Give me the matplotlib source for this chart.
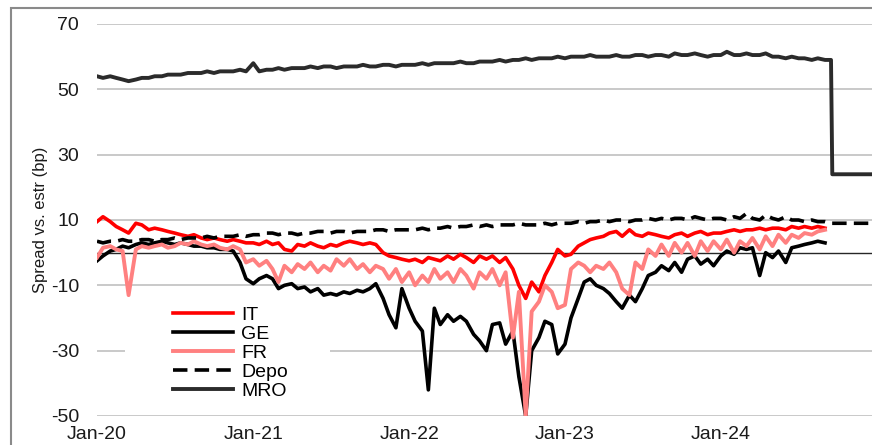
import matplotlib
matplotlib.use('Agg')
import matplotlib.pyplot as plt
import matplotlib.dates as mdates
import pandas as pd
from matplotlib.patches import Rectangle

plt.rcParams['font.family'] = ['Liberation Sans', 'DejaVu Sans']
plt.rcParams['axes.unicode_minus'] = False

# semi-monthly observation dates (1st and 15th), Jan-20 .. Jan-25
dates = pd.date_range('2020-01-01', '2025-01-01', freq='SMS')

# spreads vs estr (bp)
it = ([9.5, 11, 9.5, 8, 7, 6, 9, 8.5, 7, 7.5, 7, 6.5, 6, 5.5, 5, 5.5, 4.5, 4, 4.5, 4, 3.5, 4, 3.5, 3]
      + [3, 2.5, 3.5, 2.5, 3, 1, 0.5, 2.5, 2, 3, 2, 1.5, 2.5, 2, 3, 3.5, 3, 2.5, 3, 2.5, 0, -1, -1.5, -2]
      + [-2.5, -2, -3, -1.5, -2, -2.5, -1, -2, -0.5, -1.5, -3, -1, -2, -1, -3, -1.5, -5, -10, -14, -9, -12, -7, -3, 1]
      + [-1, -0.5, 2, 3, 4, 4.5, 5, 6, 6.5, 5, 7, 5.5, 5, 6, 5.5, 5, 4.5, 5.5, 6, 5, 6, 6.5, 5.5, 6]
      + [6, 6.5, 7, 6.5, 7, 7, 7.5, 7, 7.5, 7.5, 7, 8, 7.5, 8, 7.5, 8, 7.5])

ge = ([-2.5, -1, 0.5, 1, 2, 1.5, 2.5, 3, 2.5, 3, 3.5, 3, 2.5, 3, 2.5, 2, 2, 1.5, 1.5, 1, 1, 0.5, -3, -8]
      + [-9.5, -8, -7, -8, -11, -10, -9.5, -11, -10.5, -12, -11, -13, -12.5, -13, -12, -12.5, -11.5, -12, -11, -9.5, -14, -19, -23, -11]
      + [-17, -21, -24, -42, -17, -22, -19, -21, -19.5, -21, -25, -27, -30, -22, -21.5, -28, -24, -38, -50, -30, -26, -21, -22, -31]
      + [-28, -20, -14, -9, -8, -10, -11, -12.5, -15, -17, -13, -15, -11, -7, -6, -4, -5.5, -3, -6, -2, -1, -3.5, -2, -4]
      + [-1, 0.5, -0.5, 1.5, 1, 1.5, -7, 0, -1.5, 0.5, -3, 1.5, 2, 2.5, 3, 3.5, 3])

fr = ([-1.5, 1.5, 2, 1, 0.5, -13, 1, 2, 1.5, 2, 2.5, 1.5, 2, 3, 2.5, 3.5, 2.5, 2, 2.5, 1.5, 1, 2, 1, -3]
      + [-2, -4, -2.5, -5, -9, -4, -6, -3.5, -5, -3, -6, -4, -5.5, -2, -4, -2, -5, -3.5, -6, -4, -5, -8, -5, -9]
      + [-6, -10, -7, -9, -5, -8, -6, -9, -5, -7, -11, -6, -8, -5, -10, -6, -26, -12, -50, -18, -15, -10, -12, -17]
      + [-16, -5, -3, -4, -6, -4, -5, -3, -6, -11, -13, -3, -5, 1, -1, 2.5, -1, 3, 0, 3, -1, 3.5, 0.5, 3.5]
      + [1, 4, 0, 3.5, 2, 4.5, 1, 5, 2, 5.5, 3, 5.5, 4.5, 6, 5.5, 6.5, 7])

depo = ([3.5, 3, 3.5, 3.5, 4, 3.5, 3.5, 4, 4, 3.5, 4, 4, 4.5, 4, 4.5, 4.5, 4.5, 5, 4.5, 5, 5, 5, 5.5, 5]
        + [5.5, 5.5, 6, 6, 5.5, 6, 6, 5.5, 6, 6, 6.5, 6.5, 6, 6.5, 6.5, 6, 6.5, 6.5, 6.5, 7, 7, 6.5, 7, 7]
        + [7, 7, 7.5, 7, 7.5, 7.5, 8, 7.5, 8, 8, 8.5, 8, 8.5, 8, 8.5, 8.5, 8.5, 9, 8.5, 8.5, 8.5, 9, 8.5, 9]
        + [9, 9, 9.5, 9, 9.5, 9.5, 10, 9.5, 10, 10, 9.5, 10, 10, 10.5, 10, 10.5, 10, 10.5, 10.5, 10, 11, 10.5, 10, 10.5]
        + [10.5, 10, 11, 10.5, 12, 10.5, 10, 11.5, 10.5, 10, 11, 10, 10, 9.5, 10, 9.5, 9.5, 9, 9, 9, 9, 9, 9, 9, 9])

mro = ([54, 53.5, 54, 53.5, 53, 52.5, 53, 53.5, 53.5, 54, 54, 54.5, 54.5, 54.5, 55, 55, 55, 55.5, 55, 55.5, 55.5, 55.5, 56, 55.5]
       + [58, 55.5, 56, 56, 56.5, 56, 56.5, 56.5, 56.5, 57, 56.5, 57, 57, 56.5, 57, 57, 57, 57.5, 57, 57, 57.5, 57.5, 57, 57.5]
       + [57.5, 57.5, 58, 57.5, 58, 58, 58, 58, 58.5, 58, 58, 58.5, 58.5, 58.5, 59, 58.5, 59, 59, 59.5, 59, 59.5, 59.5, 59.5, 60]
       + [59.5, 60, 60, 60, 60.5, 60, 60, 60, 60.5, 60, 60, 60.5, 60.5, 60, 60.5, 60.5, 60, 61, 60.5, 60.5, 61, 60.5, 60, 60.5]
       + [60.5, 61.5, 60.5, 60.5, 61, 60.5, 60.5, 61, 60, 60, 59.5, 60, 59.5, 59.5, 59, 59.5, 59, 59])
mro_tail_dates = ['2024-09-18', '2025-01-01']
mro_tail = [24, 24]

yticks = [-50, -30, -10, 10, 30, 50, 70]
xticks = ['2020-01-01', '2021-01-01', '2022-01-01', '2023-01-01', '2024-01-01']

fig = plt.figure(figsize=(8.72, 4.45), dpi=100)
ax = fig.add_axes([97 / 872, 29 / 445, 775 / 872, 392 / 445])

ax.plot(dates[:len(it)], it, color='#ff0000', lw=2.6, label='IT', zorder=3)
ax.plot(dates[:len(ge)], ge, color='black', lw=2.6, label='GE', zorder=3)
ax.plot(dates[:len(fr)], fr, color='#ff8080', lw=2.8, label='FR', zorder=3)
ax.plot(dates[:len(depo)], depo, color='black', lw=2.6, ls=(0, (4, 2)), label='Depo', zorder=3)
mro_x = list(dates[:len(mro)]) + list(pd.to_datetime(mro_tail_dates))
ax.plot(mro_x, mro + mro_tail, color='#2b2b2b', lw=2.8, label='MRO', zorder=3)

ax.axhline(0, color='#262626', lw=1.0, zorder=1.6)

ax.set_ylim(-50, 70)
ax.set_xlim(pd.Timestamp('2020-01-01'), pd.Timestamp('2024-12-20'))
ax.set_yticks(yticks)
ax.set_xticks(pd.to_datetime(xticks))
ax.xaxis.set_major_formatter(mdates.DateFormatter('%b-%y'))
ax.yaxis.grid(True, color='#c0c0c0', lw=1.2)
ax.set_axisbelow(True)
for s in ax.spines.values():
    s.set_visible(False)
ax.tick_params(axis='both', length=0, labelsize=14, colors='#1a1a1a')
ax.tick_params(axis='x', pad=7)
ax.tick_params(axis='y', pad=13)

# white legend box hiding the gridline behind it
ax.add_patch(Rectangle((0.036, 0.028), 0.265, 0.288, transform=ax.transAxes,
                       facecolor='white', edgecolor='none', zorder=1.5))
ax.legend(loc='upper left', bbox_to_anchor=((173 - 97) / 775, (416 - 306) / 392),
          frameon=False, fontsize=14, handlelength=3.1, handletextpad=0.4,
          labelspacing=0.08, borderpad=0, borderaxespad=0)

fig.text(40 / 872, (445 - 220) / 445, 'Spread vs. estr (bp)', rotation=90,
         ha='center', va='center', fontsize=12, color='#1a1a1a')

# outer chart border (cut off at right and bottom)
fig.add_artist(Rectangle((11 / 872, -0.1), 1.2, (445 - 8) / 445 + 0.1,
                         transform=fig.transFigure, fill=False,
                         edgecolor='#8a8a8a', lw=1.5))

fig.savefig('out.png', dpi=100)
